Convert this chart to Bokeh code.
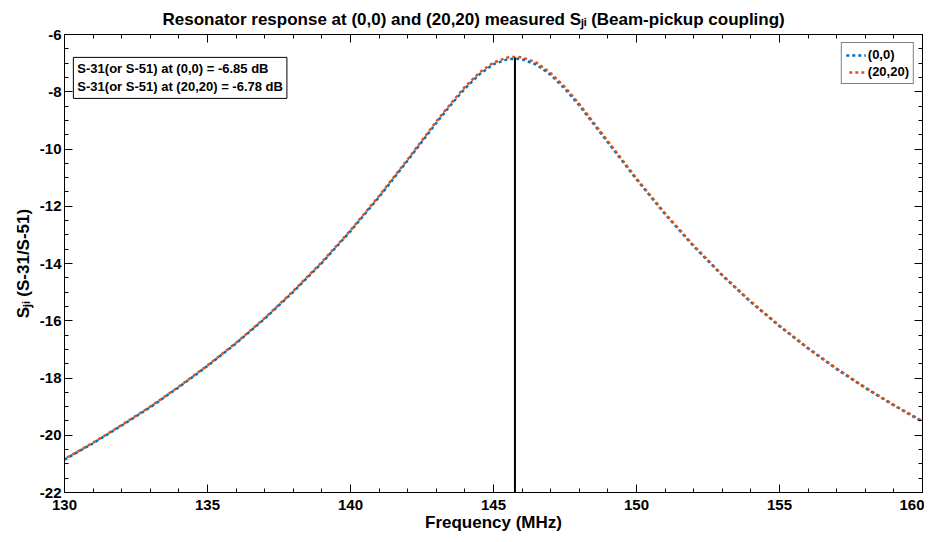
from bokeh.plotting import figure
from bokeh.models import LinearAxis, FixedTicker, Label, Legend
from bokeh.embed import file_html
from bokeh.resources import INLINE

# ---- data ----
freq_mhz = [130, 131, 132, 133, 134, 135, 136, 137, 138, 139, 140, 141, 142, 143,
            143.5, 144, 144.5, 145, 145.5, 145.8, 146, 146.5, 147, 147.5, 148,
            149, 150, 151, 152, 153, 154, 155, 156, 157, 158, 159, 160]
s_00 = [-20.85, -20.28, -19.66, -19.02, -18.32, -17.58, -16.79, -15.93, -14.99, -13.98,
        -12.87, -11.68, -10.40, -9.09, -8.47, -7.89, -7.40, -7.04, -6.86, -6.85,
        -6.87, -7.05, -7.41, -7.90, -8.48, -9.77, -11.06, -12.28, -13.40, -14.42,
        -15.35, -16.19, -16.97, -17.69, -18.35, -18.96, -19.53]
s_2020 = [-20.83, -20.26, -19.64, -19.00, -18.30, -17.56, -16.77, -15.91, -14.96, -13.95,
          -12.84, -11.64, -10.36, -9.04, -8.42, -7.83, -7.34, -6.98, -6.80, -6.78,
          -6.80, -6.98, -7.35, -7.84, -8.43, -9.73, -11.03, -12.25, -13.37, -14.40,
          -15.33, -16.17, -16.95, -17.67, -18.33, -18.94, -19.51]
series_labels = ["(0,0)", "(20,20)"]
marker_freq = 145.75
marker_top = -6.80
x_ticks = [130, 135, 140, 145, 150, 155, 160]
x_minor = list(range(130, 161))
y_ticks = [-22, -20, -18, -16, -14, -12, -10, -8, -6]
y_tick_labels = ["-22", "-20", "-18", "-16", "-14", "-12", "-10", "-8", "-6"]
y_minor = [-22 + 0.5 * i for i in range(33)]
annotation_lines = ["S-31(or S-51) at (0,0) = -6.85 dB",
                    "S-31(or S-51) at (20,20) = -6.78 dB"]

FONT = "Liberation Sans"
SUB = "S\u2C7C\u1D62"

p = figure(width=924, height=534, x_range=(130, 160), y_range=(-22, -6),
           output_backend="svg", toolbar_location=None,
           min_border_left=64, min_border_right=2, min_border_top=34, min_border_bottom=42,
           title="Resonator response at (0,0) and (20,20) measured " + SUB + " (Beam-pickup coupling)")

p.title.align = "left"
p.title.offset = 98
p.title.standoff = 12
p.title.text_font = FONT
p.title.text_font_size = "17px"
p.title.text_font_style = "bold"
p.title.text_color = "black"

p.grid.visible = False
p.outline_line_color = "black"
p.outline_line_width = 1
p.background_fill_color = "white"

def style_axis(ax, ticks, minor, labels=True):
    ax.ticker = FixedTicker(ticks=ticks, minor_ticks=minor)
    ax.major_tick_in = 8
    ax.major_tick_out = 0
    ax.minor_tick_in = 4
    ax.minor_tick_out = 0
    ax.axis_line_color = "black"
    ax.major_tick_line_color = "black"
    ax.minor_tick_line_color = "black"
    ax.major_label_text_font = FONT
    ax.major_label_text_font_size = "15px"
    ax.major_label_text_font_style = "bold"
    ax.major_label_text_color = "black"
    ax.axis_label_text_font = FONT
    ax.axis_label_text_font_size = "17px"
    ax.axis_label_text_font_style = "bold"
    ax.axis_label_text_color = "black"
    if not labels:
        ax.major_label_overrides = {t: "" for t in ticks}
        ax.major_label_standoff = 0

style_axis(p.xaxis[0], x_ticks, x_minor)
style_axis(p.yaxis[0], y_ticks, y_minor)
p.yaxis[0].major_label_overrides = dict(zip(y_ticks, y_tick_labels))
p.xaxis[0].axis_label = "Frequency (MHz)"
p.xaxis[0].axis_label_standoff = 0
p.xaxis[0].major_label_standoff = 7
p.yaxis[0].axis_label = SUB + " (S-31/S-51)"
p.yaxis[0].axis_label_standoff = 4
p.yaxis[0].major_label_standoff = 3

top_ax = LinearAxis()
style_axis(top_ax, x_ticks, x_minor, labels=False)
p.add_layout(top_ax, "above")
right_ax = LinearAxis()
style_axis(right_ax, y_ticks, y_minor, labels=False)
p.add_layout(right_ax, "right")

r0 = p.line(freq_mhz, s_00, line_color="#0072BD", line_width=2.5, line_dash="3 3")
r1 = p.line(freq_mhz, s_2020, line_color="#D95319", line_width=2.5, line_dash="3 3",
            line_dash_offset=3)

p.line([marker_freq, marker_freq], [-22, marker_top], line_color="black", line_width=2)

legend = Legend(items=[(series_labels[0], [r0]), (series_labels[1], [r1])],
                location="top_right")
legend.label_text_font = FONT
legend.label_text_font_size = "13px"
legend.label_text_font_style = "bold"
legend.label_text_color = "black"
legend.border_line_color = "black"
legend.border_line_width = 1
legend.glyph_width = 20
legend.glyph_height = 14
legend.label_height = 14
legend.spacing = 2
legend.padding = 4
legend.margin = 8
legend.label_standoff = 2
p.add_layout(legend)

ann = Label(x=130.31, y=-6.8, text="\n".join(annotation_lines),
            text_font=FONT, text_font_size="13px", text_font_style="bold",
            text_color="black", anchor="top_left",
            border_line_color="black", border_line_width=1,
            background_fill_color="white", padding=4)
p.add_layout(ann)

open("out.html", "w").write(file_html(p, INLINE))
